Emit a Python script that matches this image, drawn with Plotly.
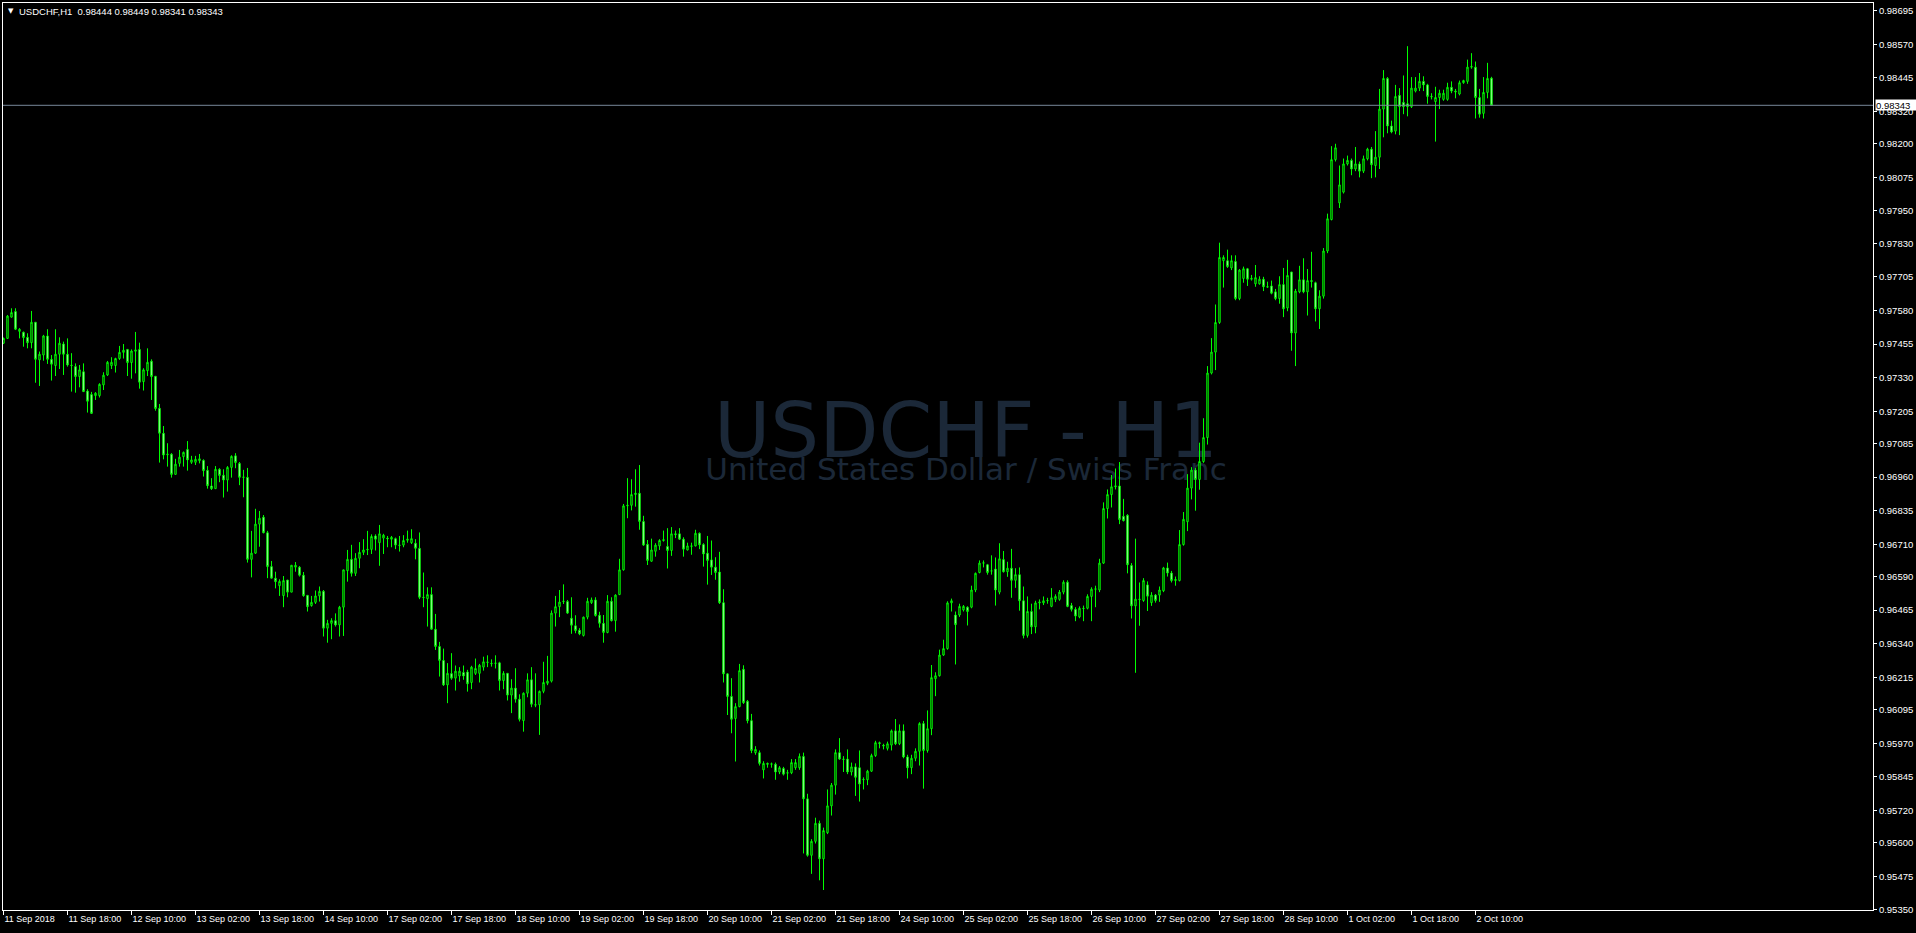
import plotly.graph_objects as go

symbol = "USDCHF"
period = "H1"
description = "United States Dollar / Swiss Franc"

open_ = [0.97458,0.97476,0.97555,0.97576,0.97502,0.97499,0.97480,0.97460,0.97536,0.97396,
0.97414,0.97485,0.97398,0.97375,0.97417,0.97455,0.97417,0.97376,0.97371,0.97334,
0.97352,0.97280,0.97267,0.97263,0.97263,0.97303,0.97340,0.97375,0.97375,0.97401,
0.97424,0.97435,0.97386,0.97428,0.97435,0.97315,0.97356,0.97391,0.97335,0.97216,
0.97123,0.97043,0.97045,0.96970,0.97011,0.97036,0.97063,0.97015,0.97015,0.97021,
0.97022,0.96985,0.96927,0.96917,0.96989,0.96967,0.96949,0.96996,0.97039,0.97011,
0.96959,0.96959,0.96654,0.96677,0.96785,0.96811,0.96753,0.96627,0.96584,0.96556,
0.96519,0.96577,0.96532,0.96625,0.96625,0.96595,0.96520,0.96482,0.96494,0.96518,
0.96535,0.96398,0.96416,0.96426,0.96410,0.96476,0.96612,0.96654,0.96602,0.96658,
0.96680,0.96689,0.96691,0.96741,0.96716,0.96733,0.96733,0.96729,0.96731,0.96707,
0.96707,0.96725,0.96716,0.96714,0.96695,0.96513,0.96508,0.96523,0.96394,0.96330,
0.96278,0.96187,0.96229,0.96212,0.96220,0.96233,0.96235,0.96196,0.96230,0.96230,
0.96253,0.96272,0.96267,0.96267,0.96269,0.96203,0.96230,0.96149,0.96175,0.96134,
0.96054,0.96156,0.96206,0.96113,0.96113,0.96163,0.96193,0.96201,0.96454,0.96478,
0.96497,0.96497,0.96435,0.96407,0.96390,0.96371,0.96439,0.96493,0.96503,0.96446,
0.96416,0.96382,0.96498,0.96426,0.96523,0.96615,0.96853,0.96855,0.96895,0.96900,
0.96795,0.96710,0.96647,0.96684,0.96704,0.96724,0.96702,0.96687,0.96749,0.96749,
0.96729,0.96689,0.96704,0.96704,0.96751,0.96709,0.96677,0.96652,0.96625,0.96607,
0.96493,0.96228,0.96144,0.96062,0.96106,0.96245,0.96126,0.96054,0.95935,0.95935,
0.95871,0.95895,0.95892,0.95892,0.95863,0.95876,0.95860,0.95860,0.95879,0.95879,
0.95921,0.95763,0.95553,0.95605,0.95672,0.95540,0.95637,0.95737,0.95814,0.95935,
0.95911,0.95911,0.95863,0.95882,0.95879,0.95834,0.95834,0.95866,0.95924,0.95972,
0.95962,0.95951,0.95963,0.96016,0.95968,0.96016,0.95919,0.95879,0.95914,0.95940,
0.96043,0.95943,0.96024,0.96210,0.96221,0.96298,0.96322,0.96492,0.96447,0.96447,
0.96466,0.96476,0.96476,0.96540,0.96605,0.96640,0.96634,0.96611,0.96618,0.96532,
0.96653,0.96608,0.96621,0.96576,0.96597,0.96500,0.96371,0.96460,0.96403,0.96492,
0.96492,0.96500,0.96479,0.96505,0.96505,0.96532,0.96569,0.96482,0.96468,0.96440,
0.96472,0.96472,0.96516,0.96543,0.96540,0.96640,0.96843,0.96895,0.96924,0.96927,
0.96814,0.96818,0.96631,0.96481,0.96506,0.96501,0.96559,0.96493,0.96521,0.96521,
0.96537,0.96622,0.96603,0.96575,0.96575,0.96709,0.96794,0.96919,0.96986,0.96951,
0.97018,0.97107,0.97347,0.97425,0.97535,0.97765,0.97765,0.97738,0.97762,0.97624,
0.97699,0.97735,0.97696,0.97679,0.97679,0.97696,0.97668,0.97671,0.97649,0.97624,
0.97676,0.97589,0.97723,0.97496,0.97649,0.97694,0.97649,0.97691,0.97683,0.97586,
0.97633,0.97801,0.97918,0.98141,0.97980,0.98020,0.98125,0.98138,0.98106,0.98125,
0.98098,0.98144,0.98180,0.98119,0.98150,0.98329,0.98443,0.98266,0.98247,0.98380,
0.98354,0.98349,0.98338,0.98396,0.98407,0.98432,0.98419,0.98376,0.98357,0.98372,
0.98365,0.98365,0.98410,0.98396,0.98385,0.98427,0.98432,0.98485,0.98485,0.98372,
0.98313,0.98391,0.98444]

high_ = [0.97479,0.97563,0.97588,0.97588,0.97514,0.97501,0.97495,0.97578,0.97536,0.97427,
0.97489,0.97510,0.97414,0.97510,0.97480,0.97464,0.97476,0.97421,0.97383,0.97377,
0.97383,0.97287,0.97277,0.97276,0.97309,0.97350,0.97392,0.97406,0.97404,0.97448,
0.97455,0.97435,0.97435,0.97500,0.97460,0.97365,0.97439,0.97398,0.97335,0.97232,
0.97150,0.97086,0.97049,0.97028,0.97061,0.97055,0.97094,0.97039,0.97039,0.97046,
0.97026,0.97001,0.96956,0.97001,0.96993,0.96989,0.97001,0.97041,0.97049,0.97016,
0.96987,0.96994,0.96760,0.96842,0.96834,0.96819,0.96760,0.96648,0.96608,0.96580,
0.96592,0.96577,0.96632,0.96644,0.96629,0.96607,0.96520,0.96518,0.96538,0.96553,
0.96540,0.96429,0.96435,0.96453,0.96481,0.96615,0.96689,0.96708,0.96677,0.96718,
0.96729,0.96760,0.96747,0.96747,0.96782,0.96749,0.96741,0.96741,0.96735,0.96741,
0.96744,0.96761,0.96766,0.96729,0.96754,0.96605,0.96550,0.96550,0.96451,0.96347,
0.96322,0.96268,0.96305,0.96259,0.96253,0.96259,0.96243,0.96258,0.96285,0.96265,
0.96292,0.96297,0.96282,0.96297,0.96273,0.96238,0.96230,0.96208,0.96249,0.96152,
0.96159,0.96230,0.96253,0.96230,0.96166,0.96273,0.96295,0.96464,0.96518,0.96540,
0.96561,0.96503,0.96513,0.96446,0.96398,0.96441,0.96511,0.96512,0.96513,0.96459,
0.96447,0.96521,0.96513,0.96524,0.96656,0.96860,0.96956,0.96952,0.96989,0.97005,
0.96816,0.96726,0.96731,0.96714,0.96729,0.96761,0.96770,0.96774,0.96761,0.96770,
0.96736,0.96716,0.96716,0.96764,0.96754,0.96714,0.96741,0.96724,0.96662,0.96682,
0.96543,0.96230,0.96212,0.96119,0.96265,0.96260,0.96131,0.96079,0.95959,0.95943,
0.95903,0.95898,0.95898,0.95898,0.95885,0.95882,0.95871,0.95911,0.95911,0.95932,
0.95935,0.95782,0.95613,0.95693,0.95682,0.95656,0.95798,0.95822,0.95947,0.95989,
0.95922,0.95947,0.95898,0.95895,0.95943,0.95843,0.95871,0.95931,0.95979,0.95976,
0.95968,0.95976,0.96021,0.96060,0.96040,0.96040,0.95927,0.95927,0.95951,0.96048,
0.96053,0.96092,0.96261,0.96234,0.96318,0.96355,0.96498,0.96508,0.96460,0.96489,
0.96484,0.96479,0.96556,0.96605,0.96650,0.96650,0.96637,0.96669,0.96661,0.96714,
0.96685,0.96645,0.96693,0.96621,0.96624,0.96553,0.96516,0.96489,0.96500,0.96505,
0.96516,0.96511,0.96547,0.96524,0.96540,0.96576,0.96576,0.96492,0.96476,0.96479,
0.96482,0.96524,0.96550,0.96556,0.96656,0.96866,0.96914,0.96968,0.96992,0.97016,
0.96879,0.96822,0.96640,0.96731,0.96568,0.96584,0.96572,0.96532,0.96525,0.96553,
0.96626,0.96642,0.96611,0.96590,0.96763,0.96830,0.96971,0.96997,0.96994,0.97088,
0.97179,0.97373,0.97477,0.97602,0.97832,0.97785,0.97806,0.97785,0.97785,0.97734,
0.97743,0.97738,0.97712,0.97749,0.97707,0.97705,0.97687,0.97691,0.97660,0.97707,
0.97738,0.97768,0.97723,0.97660,0.97746,0.97774,0.97734,0.97798,0.97687,0.97655,
0.97812,0.97940,0.98191,0.98200,0.98119,0.98145,0.98156,0.98145,0.98188,0.98134,
0.98156,0.98185,0.98188,0.98247,0.98404,0.98474,0.98448,0.98286,0.98419,0.98407,
0.98454,0.98563,0.98448,0.98448,0.98463,0.98451,0.98423,0.98388,0.98412,0.98401,
0.98401,0.98427,0.98432,0.98404,0.98435,0.98438,0.98513,0.98537,0.98506,0.98404,
0.98448,0.98501,0.98449]

low_ = [0.97455,0.97474,0.97553,0.97507,0.97476,0.97445,0.97439,0.97439,0.97311,0.97299,
0.97393,0.97381,0.97319,0.97336,0.97362,0.97340,0.97371,0.97278,0.97274,0.97294,
0.97278,0.97200,0.97195,0.97247,0.97256,0.97284,0.97336,0.97362,0.97349,0.97396,
0.97401,0.97336,0.97326,0.97346,0.97289,0.97282,0.97336,0.97247,0.97207,0.97014,
0.97026,0.96999,0.96958,0.96970,0.96999,0.96999,0.96984,0.97009,0.97005,0.97011,
0.96962,0.96917,0.96912,0.96917,0.96941,0.96884,0.96906,0.96958,0.96993,0.96930,
0.96885,0.96642,0.96587,0.96674,0.96701,0.96751,0.96584,0.96584,0.96546,0.96518,
0.96476,0.96513,0.96532,0.96608,0.96590,0.96515,0.96460,0.96478,0.96488,0.96497,
0.96367,0.96344,0.96357,0.96404,0.96367,0.96369,0.96571,0.96590,0.96592,0.96621,
0.96670,0.96670,0.96674,0.96687,0.96630,0.96674,0.96699,0.96699,0.96692,0.96683,
0.96699,0.96716,0.96711,0.96654,0.96506,0.96476,0.96404,0.96394,0.96317,0.96218,
0.96183,0.96119,0.96206,0.96166,0.96199,0.96206,0.96162,0.96171,0.96224,0.96196,
0.96240,0.96253,0.96255,0.96248,0.96166,0.96171,0.96129,0.96082,0.96121,0.96051,
0.96013,0.96141,0.96104,0.96104,0.96001,0.96156,0.96186,0.96196,0.96404,0.96439,
0.96488,0.96451,0.96377,0.96379,0.96372,0.96367,0.96431,0.96488,0.96441,0.96400,
0.96344,0.96379,0.96423,0.96385,0.96521,0.96612,0.96807,0.96836,0.96850,0.96764,
0.96704,0.96633,0.96645,0.96664,0.96689,0.96720,0.96620,0.96667,0.96733,0.96726,
0.96664,0.96687,0.96671,0.96702,0.96692,0.96627,0.96560,0.96596,0.96578,0.96488,
0.96196,0.96075,0.96007,0.95902,0.96104,0.96116,0.96044,0.95933,0.95927,0.95887,
0.95839,0.95879,0.95879,0.95834,0.95855,0.95850,0.95834,0.95855,0.95871,0.95871,
0.95560,0.95548,0.95484,0.95597,0.95460,0.95424,0.95632,0.95701,0.95779,0.95908,
0.95863,0.95855,0.95850,0.95774,0.95753,0.95798,0.95814,0.95863,0.95919,0.95951,
0.95947,0.95943,0.95943,0.95963,0.95963,0.95914,0.95839,0.95855,0.95903,0.95887,
0.95801,0.95935,0.96000,0.96145,0.96218,0.96295,0.96318,0.96460,0.96263,0.96440,
0.96460,0.96408,0.96472,0.96532,0.96602,0.96624,0.96597,0.96597,0.96482,0.96524,
0.96605,0.96589,0.96511,0.96548,0.96463,0.96360,0.96363,0.96376,0.96379,0.96468,
0.96484,0.96489,0.96476,0.96495,0.96500,0.96524,0.96476,0.96460,0.96424,0.96435,
0.96424,0.96468,0.96424,0.96476,0.96532,0.96637,0.96806,0.96847,0.96914,0.96785,
0.96795,0.96602,0.96434,0.96232,0.96407,0.96496,0.96462,0.96481,0.96493,0.96496,
0.96532,0.96590,0.96568,0.96556,0.96572,0.96705,0.96759,0.96877,0.96835,0.96913,
0.97013,0.97081,0.97342,0.97358,0.97530,0.97665,0.97738,0.97730,0.97618,0.97618,
0.97683,0.97671,0.97691,0.97668,0.97676,0.97652,0.97665,0.97640,0.97618,0.97605,
0.97555,0.97577,0.97430,0.97373,0.97644,0.97644,0.97561,0.97665,0.97539,0.97511,
0.97624,0.97793,0.97915,0.98134,0.97961,0.98015,0.98119,0.98083,0.98098,0.98075,
0.98091,0.98138,0.98072,0.98075,0.98106,0.98224,0.98239,0.98239,0.98235,0.98232,
0.98310,0.98302,0.98333,0.98391,0.98396,0.98396,0.98349,0.98365,0.98208,0.98329,
0.98360,0.98360,0.98388,0.98369,0.98380,0.98423,0.98423,0.98479,0.98294,0.98297,
0.98294,0.98369,0.98341]

close_ = [0.97476,0.97559,0.97572,0.97510,0.97510,0.97479,0.97460,0.97536,0.97398,0.97417,
0.97485,0.97398,0.97380,0.97417,0.97458,0.97417,0.97377,0.97375,0.97334,0.97359,
0.97278,0.97242,0.97197,0.97272,0.97305,0.97339,0.97387,0.97387,0.97401,0.97424,
0.97432,0.97386,0.97429,0.97433,0.97313,0.97359,0.97387,0.97334,0.97215,0.97123,
0.97042,0.97045,0.96970,0.97008,0.97034,0.97052,0.97024,0.97024,0.97026,0.97028,
0.96984,0.96928,0.96917,0.96989,0.96966,0.96949,0.96996,0.97037,0.97014,0.96959,
0.96960,0.96654,0.96677,0.96785,0.96807,0.96753,0.96627,0.96584,0.96571,0.96572,
0.96575,0.96532,0.96632,0.96632,0.96595,0.96519,0.96478,0.96494,0.96518,0.96535,
0.96398,0.96416,0.96426,0.96410,0.96476,0.96615,0.96654,0.96602,0.96658,0.96680,
0.96689,0.96691,0.96739,0.96729,0.96749,0.96744,0.96731,0.96736,0.96707,0.96706,
0.96724,0.96729,0.96731,0.96695,0.96513,0.96512,0.96523,0.96394,0.96330,0.96278,
0.96187,0.96230,0.96212,0.96238,0.96238,0.96220,0.96191,0.96253,0.96248,0.96260,
0.96273,0.96271,0.96266,0.96268,0.96203,0.96230,0.96149,0.96175,0.96134,0.96059,
0.96156,0.96206,0.96115,0.96112,0.96163,0.96196,0.96201,0.96454,0.96478,0.96495,
0.96498,0.96454,0.96409,0.96389,0.96377,0.96439,0.96498,0.96503,0.96445,0.96416,
0.96382,0.96498,0.96426,0.96521,0.96615,0.96853,0.96855,0.96895,0.96900,0.96795,
0.96707,0.96650,0.96689,0.96707,0.96724,0.96727,0.96687,0.96749,0.96746,0.96729,
0.96692,0.96704,0.96703,0.96751,0.96708,0.96674,0.96650,0.96625,0.96605,0.96493,
0.96228,0.96144,0.96059,0.96106,0.96240,0.96121,0.96054,0.95943,0.95947,0.95895,
0.95895,0.95892,0.95893,0.95863,0.95879,0.95855,0.95859,0.95898,0.95898,0.95921,
0.95763,0.95553,0.95605,0.95672,0.95540,0.95645,0.95737,0.95814,0.95935,0.95911,
0.95910,0.95863,0.95882,0.95843,0.95818,0.95835,0.95866,0.95924,0.95972,0.95969,
0.95960,0.95968,0.96016,0.95968,0.96016,0.95919,0.95879,0.95914,0.95940,0.96043,
0.95943,0.96024,0.96214,0.96221,0.96298,0.96322,0.96492,0.96500,0.96411,0.96479,
0.96479,0.96460,0.96540,0.96602,0.96640,0.96641,0.96605,0.96611,0.96540,0.96656,
0.96608,0.96621,0.96576,0.96597,0.96500,0.96371,0.96460,0.96403,0.96492,0.96495,
0.96500,0.96501,0.96511,0.96516,0.96532,0.96569,0.96479,0.96468,0.96443,0.96472,
0.96471,0.96516,0.96543,0.96544,0.96640,0.96843,0.96895,0.96924,0.96927,0.96802,
0.96798,0.96634,0.96481,0.96506,0.96505,0.96575,0.96517,0.96521,0.96501,0.96540,
0.96622,0.96603,0.96575,0.96579,0.96709,0.96803,0.96919,0.96986,0.96951,0.97018,
0.97107,0.97347,0.97425,0.97535,0.97777,0.97777,0.97743,0.97765,0.97624,0.97730,
0.97735,0.97696,0.97699,0.97702,0.97696,0.97668,0.97667,0.97644,0.97624,0.97676,
0.97586,0.97710,0.97496,0.97652,0.97694,0.97649,0.97691,0.97688,0.97586,0.97633,
0.97801,0.97921,0.98141,0.98185,0.98047,0.98125,0.98138,0.98106,0.98125,0.98098,
0.98144,0.98180,0.98122,0.98150,0.98329,0.98443,0.98266,0.98244,0.98376,0.98338,
0.98338,0.98338,0.98407,0.98407,0.98432,0.98419,0.98376,0.98375,0.98372,0.98388,
0.98388,0.98410,0.98396,0.98393,0.98427,0.98435,0.98485,0.98487,0.98372,0.98310,
0.98391,0.98443,0.98343]

# time axis labels (one every 16 hourly bars)
time_tick_bars = [0, 16, 32, 48, 64, 80, 96, 112, 128, 144, 160, 176, 192, 208, 224, 240,
                  256, 272, 288, 304, 320, 336, 352, 368]
time_tick_labels = ["11 Sep 2018", "11 Sep 18:00", "12 Sep 10:00", "13 Sep 02:00", "13 Sep 18:00",
                    "14 Sep 10:00", "17 Sep 02:00", "17 Sep 18:00", "18 Sep 10:00", "19 Sep 02:00",
                    "19 Sep 18:00", "20 Sep 10:00", "21 Sep 02:00", "21 Sep 18:00", "24 Sep 10:00",
                    "25 Sep 02:00", "25 Sep 18:00", "26 Sep 10:00", "27 Sep 02:00", "27 Sep 18:00",
                    "28 Sep 10:00", "1 Oct 02:00", "1 Oct 18:00", "2 Oct 10:00"]
price_ticks = [0.98695, 0.98570, 0.98445, 0.98320, 0.98200, 0.98075, 0.97950, 0.97830, 0.97705,
               0.97580, 0.97455, 0.97330, 0.97205, 0.97085, 0.96960, 0.96835, 0.96710, 0.96590,
               0.96465, 0.96340, 0.96215, 0.96095, 0.95970, 0.95845, 0.95720, 0.95600, 0.95475,
               0.95350]

bars = list(range(len(close_)))
GREEN = "#00FF00"
FONT = "Liberation Sans"

fig = go.Figure()
fig.add_trace(go.Candlestick(
    x=bars, open=open_, high=high_, low=low_, close=close_,
    increasing=dict(line=dict(color=GREEN, width=1), fillcolor="#000000"),
    decreasing=dict(line=dict(color=GREEN, width=1), fillcolor="#FFFFFF"),
    whiskerwidth=0, hoverinfo="skip", showlegend=False,
))

W, H = 1916, 933
ml, mr, mt, mb = 3, 43, 3, 23
plot_w = W - ml - mr
fig.update_layout(
    width=W, height=H,
    margin=dict(l=ml, r=mr, t=mt, b=mb, pad=0),
    paper_bgcolor="#000000", plot_bgcolor="#000000",
    boxgap=0.5,
    showlegend=False,
    font=dict(family=FONT, color="#FFFFFF", size=10),
)
fig.update_xaxes(
    range=[-0.125, -0.125 + plot_w / 4.0],
    rangeslider=dict(visible=False),
    showgrid=False, zeroline=False,
    showline=True, linecolor="#FFFFFF", linewidth=1, mirror=True,
    tickmode="array", tickvals=time_tick_bars, ticktext=time_tick_labels,
    ticks="outside", ticklen=4, tickcolor="#FFFFFF", tickwidth=1,
    ticklabelposition="outside right",
    tickfont=dict(family=FONT, size=9, color="#FFFFFF"),
)
fig.update_yaxes(
    side="right",
    range=[0.953496, 0.987236],
    showgrid=False, zeroline=False,
    showline=True, linecolor="#FFFFFF", linewidth=1, mirror=True,
    tickmode="array", tickvals=price_ticks, tickformat=".5f",
    ticks="outside", ticklen=3, tickcolor="#FFFFFF", tickwidth=1,
    tickfont=dict(family=FONT, size=9.5, color="#FFFFFF"),
)

# bid line
last_close = close_[-1]
fig.add_shape(type="line", xref="paper", x0=0, x1=1, yref="y", y0=last_close, y1=last_close,
              line=dict(color="#778899", width=1), layer="above")
fig.add_annotation(xref="paper", x=1, xanchor="left", xshift=2, yref="y", y=last_close,
                   yanchor="middle", text=f"{last_close:.5f}", showarrow=False,
                   bgcolor="#FFFFFF", font=dict(family=FONT, size=9.5, color="#000000"),
                   width=40, height=10, align="left", borderpad=0)

# watermark (drawn below the candles)
WM = "#1b2838"
fig.add_shape(type="rect", xref="paper", yref="paper", x0=0.30, x1=0.73, y0=0.50, y1=0.57,
              line=dict(width=0), fillcolor="rgba(0,0,0,0)", layer="below",
              label=dict(text=f"{symbol} - {period}", textposition="middle center",
                         font=dict(family="DejaVu Sans", size=77, color=WM)))
fig.add_shape(type="rect", xref="paper", yref="paper", x0=0.30, x1=0.73, y0=0.47, y1=0.507,
              line=dict(width=0), fillcolor="rgba(0,0,0,0)", layer="below",
              label=dict(text=description, textposition="middle center",
                         font=dict(family="DejaVu Sans", size=31, color=WM)))

# header
fig.add_annotation(xref="paper", yref="paper", x=0, y=1, xanchor="left", yanchor="top",
                   xshift=3, yshift=-2, text="▼", showarrow=False,
                   font=dict(family="DejaVu Sans", size=7, color="#FFFFFF"))
header = (f"{symbol},{period}&nbsp; {open_[-1]:.5f} {high_[-1]:.5f} "
          f"{low_[-1]:.5f} {close_[-1]:.5f}")
fig.add_annotation(xref="paper", yref="paper", x=0, y=1, xanchor="left", yanchor="top",
                   xshift=14, yshift=-1, text=header, showarrow=False,
                   font=dict(family=FONT, size=9.5, color="#FFFFFF"))

fig.write_html("out.html", config={"displayModeBar": False},
               post_script="document.body.style.margin='0';document.body.style.overflow='hidden';")
